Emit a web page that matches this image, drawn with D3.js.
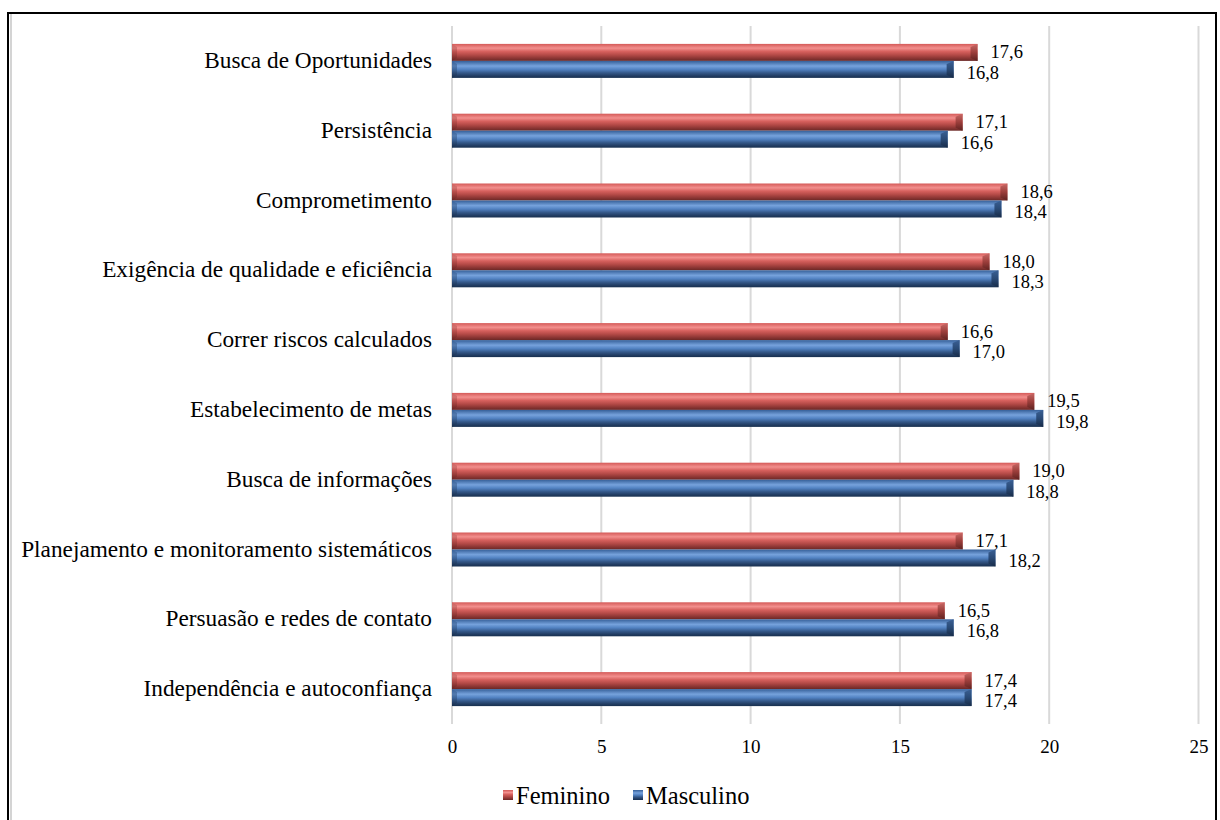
<!DOCTYPE html>
<html><head><meta charset="utf-8">
<script src="https://cdn.jsdelivr.net/npm/d3@7/dist/d3.min.js"></script>
<style>body{margin:0;background:#fff}svg{display:block}</style>
</head><body>
<svg id="c" width="1220" height="820"></svg>
<script>
const categories = ["Busca de Oportunidades","Persistência","Comprometimento","Exigência de qualidade e eficiência","Correr riscos calculados","Estabelecimento de metas","Busca de informações","Planejamento e monitoramento sistemáticos","Persuasão e redes de contato","Independência e autoconfiança"];
const feminino = [17.6,17.1,18.6,18.0,16.6,19.5,19.0,17.1,16.5,17.4];
const masculino = [16.8,16.6,18.4,18.3,17.0,19.8,18.8,18.2,16.8,17.4];
const seriesNames = ["Feminino","Masculino"];
const xTicks = [0,5,10,15,20,25];

const svg = d3.select("#c");
const font = "'Liberation Serif','Times New Roman',serif";

// frame
svg.append("line").attr("x1",11).attr("x2",11).attr("y1",14).attr("y2",820).attr("stroke","#d4d4d4").attr("stroke-width",2);
svg.append("rect").attr("x",8).attr("y",13).attr("width",1208).attr("height",820).attr("fill","none").attr("stroke","#000").attr("stroke-width",2);

const defs = svg.append("defs");
function grad(id, stops){
  const g = defs.append("linearGradient").attr("id",id).attr("x1",0).attr("x2",0).attr("y1",0).attr("y2",1);
  stops.forEach(s=>g.append("stop").attr("offset",s[0]).attr("stop-color",s[1]));
}
grad("gF",[[0,"#d45a58"],[0.25,"#f28f8d"],[0.45,"#d6605d"],[0.65,"#b44a47"],[0.85,"#8a3533"],[1,"#6a2725"]]);
grad("gM",[[0,"#355f98"],[0.3,"#76a2dc"],[0.5,"#5282c2"],[0.7,"#35598a"],[0.88,"#223d63"],[1,"#18304f"]]);
grad("cF",[[0,"#c86a67"],[0.5,"#9c3e3b"],[1,"#5e2220"]]);
grad("cM",[[0,"#3a6095"],[0.5,"#2a4a75"],[1,"#172b48"]]);

const x = d3.scaleLinear().domain([0,25]).range([452,1198.5]);
const y = d3.scaleBand().domain(categories).range([26,724]);
const inner = d3.scaleBand().domain(seriesNames).range([0,34]);
const bandOff = (y.bandwidth()-34)/2;

// gridlines
svg.append("g").selectAll("line").data(xTicks).join("line")
  .attr("x1",d=>x(d)).attr("x2",d=>x(d)).attr("y1",26).attr("y2",724)
  .attr("stroke","#d9d9d9").attr("stroke-width",2);

// axis labels
const xa = svg.append("g").attr("transform","translate(0,724)")
  .call(d3.axisBottom(x).tickValues(xTicks).tickSize(0).tickPadding(16).tickFormat(d3.format("d")));
xa.select(".domain").remove();
xa.selectAll("text").attr("font-family",font).attr("font-size",19).attr("fill","#000");

// category labels
const ya = svg.append("g").attr("transform","translate(452,0)")
  .call(d3.axisLeft(y).tickSize(0).tickPadding(20));
ya.select(".domain").remove();
ya.selectAll("text").attr("font-family",font).attr("font-size",23.3).attr("fill","#000").attr("dy","0.3em");

const rows = [];
categories.forEach((c,i)=>{
  rows.push({c, s:"Feminino", v:feminino[i], g:"gF", cap:"cF", off:-1.5});
  rows.push({c, s:"Masculino", v:masculino[i], g:"gM", cap:"cM", off:2});
});
const bh = inner.bandwidth();
const bars = svg.append("g").selectAll("g").data(rows).join("g")
  .attr("transform",d=>`translate(0,${y(d.c)+bandOff+inner(d.s)})`);
bars.append("rect").attr("x",x(0)).attr("y",0).attr("width",d=>x(d.v)-x(0)).attr("height",bh)
  .attr("fill",d=>`url(#${d.g})`);
// bevel end cap
bars.append("path").attr("d",d=>{const e=x(d.v);return `M${e-7},${3}L${e},0L${e},${bh}L${e-7},${bh-3}Z`;})
  .attr("fill",d=>`url(#${d.cap})`);
// left bevel
bars.append("path").attr("d",d=>`M${x(0)},0L${x(0)+5},3L${x(0)+5},${bh-3}L${x(0)},${bh}Z`)
  .attr("fill",d=>`url(#${d.cap})`).attr("opacity",0.5);
bars.append("text").attr("x",d=>x(d.v)+13).attr("y",d=>bh/2+1+d.off).attr("dy","0.35em")
  .attr("font-family",font).attr("font-size",18.5).attr("fill","#000")
  .text(d=>d3.format(".1f")(d.v).replace(".",","));

// legend
const leg = svg.append("g").attr("transform","translate(0,795)");
const legItems = [{n:"Feminino",g:"gF",x:503},{n:"Masculino",g:"gM",x:633}];
const li = leg.selectAll("g").data(legItems).join("g").attr("transform",d=>`translate(${d.x},0)`);
li.append("rect").attr("x",0).attr("y",-5).attr("width",10).attr("height",10).attr("fill",d=>`url(#${d.g})`);
li.append("text").attr("x",13).attr("y",0).attr("dy","0.35em").attr("font-family",font).attr("font-size",24.5).text(d=>d.n);
</script>
</body></html>
